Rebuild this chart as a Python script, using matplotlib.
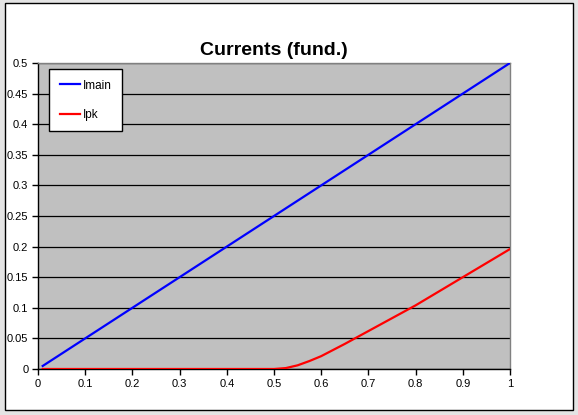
'''
Currents (fund.) chart, Excel style
'''

import matplotlib
matplotlib.use('Agg')
import matplotlib.pyplot as plt
from matplotlib.patches import Rectangle

#########################################

# data
xMain=[0.01,0.1,0.2,0.3,0.4,0.5,0.6,0.7,0.8,0.9,1.0]
iMain=[0.005,0.05,0.1,0.15,0.2,0.25,0.3,0.35,0.4,0.45,0.5]

xPk=[0.01,0.1,0.2,0.3,0.4,0.5,0.525,0.55,0.575,0.6,0.65,0.7,0.75,0.8,0.85,0.9,0.95,1.0]
iPk=[0,0,0,0,0,0,0.0015,0.006,0.013,0.021,0.041,0.062,0.083,0.104,0.127,0.15,0.173,0.196]

xTicks=[0,0.1,0.2,0.3,0.4,0.5,0.6,0.7,0.8,0.9,1]
xLabels=['0','0.1','0.2','0.3','0.4','0.5','0.6','0.7','0.8','0.9','1']
yTicks=[0,0.05,0.1,0.15,0.2,0.25,0.3,0.35,0.4,0.45,0.5]
yLabels=['0','0.05','0.1','0.15','0.2','0.25','0.3','0.35','0.4','0.45','0.5']

#########################################

plt.rcParams['font.family']=['Liberation Sans','DejaVu Sans']

W,H=578,415
fig=plt.figure(figsize=(W/100,H/100),dpi=100,facecolor='#e4e4e4')

# white chart area with black border (behind the axes)
fig.patches.append(Rectangle((5/W,1-410/H),568/W,407/H,transform=fig.transFigure,
                             facecolor='white',edgecolor='black',linewidth=1,zorder=-5))

ax=fig.add_axes([38/W,1-369/H,472/W,306/H])
ax.set_facecolor('#c0c0c0')
for s in ax.spines.values():
  s.set_color('#808080')
  s.set_linewidth(1)
ax.spines['left'].set_color('black')
ax.spines['bottom'].set_color('black')

ax.set_xlim(0,1)
ax.set_ylim(0,0.5)
ax.set_xticks(xTicks)
ax.set_xticklabels(xLabels)
ax.set_yticks(yTicks)
ax.set_yticklabels(yLabels)
ax.tick_params(direction='out',length=4,width=1,labelsize=8,pad=3,colors='black')
ax.yaxis.grid(True,color='black',linewidth=0.9)
ax.set_axisbelow(True)

ax.plot(xMain,iMain,color='#0000ff',linewidth=1.6,label='Imain',zorder=3)
ax.plot(xPk,iPk,color='#ff0000',linewidth=1.6,label='Ipk',zorder=3)

ax.set_title('Currents (fund.)',fontsize=14,fontweight='bold',pad=6)

leg=ax.legend(loc='upper left',bbox_to_anchor=(11/472,300/306),fontsize=8.5,
              frameon=True,fancybox=False,edgecolor='black',framealpha=1,
              handlelength=1.7,handletextpad=0.25,labelspacing=1.45,borderpad=0.9,
              borderaxespad=0)
leg.get_frame().set_linewidth(1)

fig.savefig('out.png',dpi=100,facecolor=fig.get_facecolor())
